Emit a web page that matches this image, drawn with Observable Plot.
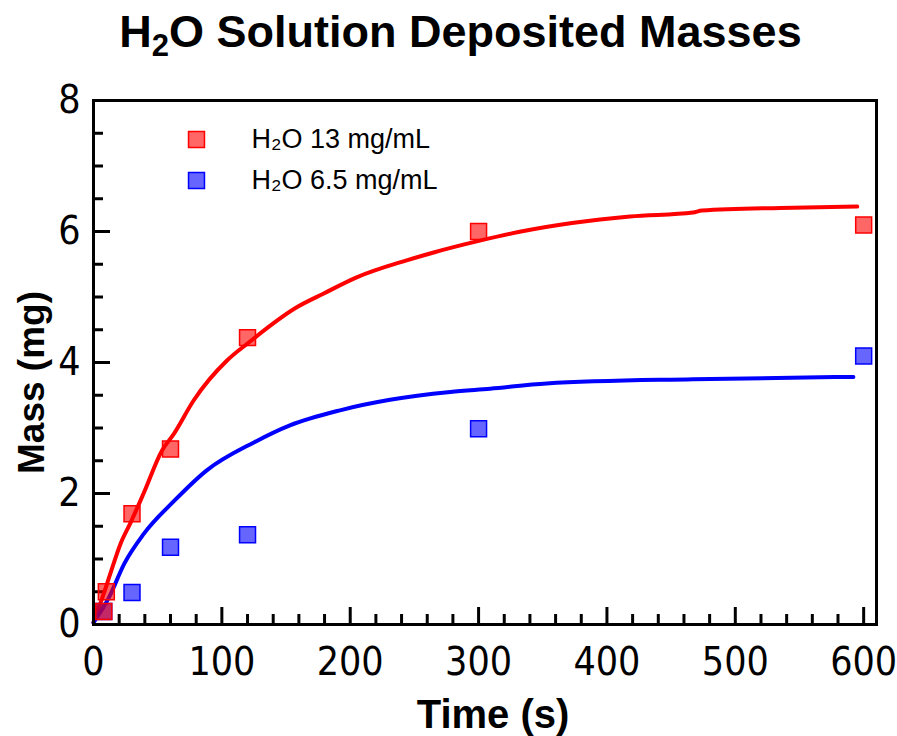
<!DOCTYPE html>
<html>
<head>
<meta charset="utf-8">
<script src="https://cdn.jsdelivr.net/npm/d3@7"></script>
<script src="https://cdn.jsdelivr.net/npm/@observablehq/plot@0.6"></script>
<style>
  html, body { margin: 0; padding: 0; background: #fff; }
  #title {
    height: 80px; width: 873px; padding-left: 24px; text-align: center;
    font-family: "Liberation Sans", Arial, sans-serif; font-weight: bold;
    font-size: 45px; line-height: 64px; color: #000;
  }
  #title sub { font-size: 31px; line-height: 0; vertical-align: -9px; }
</style>
</head>
<body>
<div id="title">H<sub>2</sub>O Solution Deposited Masses</div>
<div id="chart"></div>
<script>
// Measured deposited masses, 13 mg/mL solution
const timeHigh = [8, 10, 30, 60, 120, 300, 600];
const massHigh = [0.2, 0.5, 1.69, 2.68, 4.38, 6.0, 6.1];

// Measured deposited masses, 6.5 mg/mL solution
const timeLow = [8, 30, 60, 120, 300, 600];
const massLow = [0.2, 0.49, 1.18, 1.37, 2.99, 4.1];

// Fitted curve, 13 mg/mL
const fitTimeHigh = [0, 8, 16, 21, 29, 39, 53.5, 62.6, 78, 104, 120, 159, 179, 205, 244, 265, 301, 333, 418, 467, 474, 535, 595];
const fitMassHigh = [0.03, 0.47, 0.95, 1.23, 1.56, 2.0, 2.66, 2.91, 3.42, 4.03, 4.29, 4.85, 5.05, 5.30, 5.56, 5.68, 5.86, 6.0, 6.23, 6.29, 6.32, 6.36, 6.38];

// Fitted curve, 6.5 mg/mL
const fitTimeLow = [0, 12, 24, 39, 63, 88, 125, 153, 192, 231, 278, 309, 353, 467, 592];
const fitMassLow = [0.03, 0.41, 0.93, 1.38, 1.89, 2.35, 2.78, 3.04, 3.27, 3.43, 3.55, 3.60, 3.68, 3.745, 3.78];

// Axis ticks
const xMajor = [0, 100, 200, 300, 400, 500, 600];
const yMajor = [0, 2, 4, 6, 8];
const xMinor = d3.range(20, 610, 20).filter(v => v % 100 !== 0);
const yMinor = d3.range(0.5, 8, 0.5).filter(v => v % 2 !== 0);

const legendLabels = ["H\u2082O 13 mg/mL", "H\u2082O 6.5 mg/mL"];
const seriesColors = ["#ff0000", "#0000ff"];

const zip = (xs, ys) => xs.map((x, i) => ({x, y: ys[i]}));
const ptsHigh = zip(timeHigh, massHigh);
const ptsLow = zip(timeLow, massLow);
const fitHigh = zip(fitTimeHigh, fitMassHigh);
const fitLow = zip(fitTimeLow, fitMassLow);

const tickFont = "DejaVu Sans Condensed, DejaVu Sans, sans-serif";
const labelFont = "Liberation Sans, Arial, sans-serif";

// tick lengths expressed in data units (x: 783 px for 610 s, y: 524 px for 8 mg)
const pxX = 610 / 783, pxY = 8 / 524;

const squareStyle = color => ({symbol: "square", r: 9, fill: color, fillOpacity: 0.6, stroke: color, strokeWidth: 1.5});

// one legend row: swatch and label anchored to the top-left of the frame
const legendRow = (i, dy) => [
  Plot.dot([legendLabels[i]], {frameAnchor: "top-left", dx: 103, dy, ...squareStyle(seriesColors[i])}),
  Plot.text([legendLabels[i]], {frameAnchor: "top-left", dx: 158, dy, text: d => d, textAnchor: "start",
    lineAnchor: "middle", fontSize: 27, fontFamily: labelFont, fill: "#000"})
];

const chart = Plot.plot({
  width: 897,
  height: 656,
  marginLeft: 93,
  marginRight: 21,
  marginTop: 20,
  marginBottom: 112,
  style: {background: "#fff", overflow: "visible"},
  x: {domain: [0, 610]},
  y: {domain: [0, 8]},
  marks: [
    // inward ticks
    Plot.ruleX(xMajor, {x: d => d, y1: 0, y2: 17 * pxY, stroke: "#000", strokeWidth: 3}),
    Plot.ruleX(xMinor, {x: d => d, y1: 0, y2: 10 * pxY, stroke: "#000", strokeWidth: 3}),
    Plot.ruleY(yMajor, {y: d => d, x1: 0, x2: 17 * pxX, stroke: "#000", strokeWidth: 3}),
    Plot.ruleY(yMinor, {y: d => d, x1: 0, x2: 10 * pxX, stroke: "#000", strokeWidth: 3}),
    Plot.axisX(xMajor, {tickSize: 0, tickPadding: 23, tickFormat: d3.format("d"), fontSize: 39, fontFamily: tickFont, fill: "#000", label: null}),
    Plot.axisY(yMajor, {tickSize: 0, tickPadding: 13, tickFormat: d3.format("d"), fontSize: 39, fontFamily: tickFont, fill: "#000", label: null}),
    // fitted curves
    Plot.line(fitHigh, {x: "x", y: "y", stroke: seriesColors[0], strokeWidth: 4, curve: "monotone-x"}),
    Plot.line(fitLow, {x: "x", y: "y", stroke: seriesColors[1], strokeWidth: 4, curve: "monotone-x"}),
    // measurements
    Plot.dot(ptsLow, {x: "x", y: "y", ...squareStyle(seriesColors[1])}),
    Plot.dot(ptsHigh, {x: "x", y: "y", ...squareStyle(seriesColors[0])}),
    // legend
    ...legendRow(0, 39),
    ...legendRow(1, 80),
    Plot.frame({stroke: "#000", strokeWidth: 3}),
    Plot.text(["Time (s)"], {frameAnchor: "bottom", dx: 8, dy: 91, text: d => d, textAnchor: "middle", lineAnchor: "middle",
      fontSize: 40, fontWeight: "bold", fontFamily: labelFont, fill: "#000"}),
    Plot.text(["Mass (mg)"], {frameAnchor: "left", dx: -61, dy: 20, text: d => d, rotate: -90, textAnchor: "middle", lineAnchor: "middle",
      fontSize: 37, fontWeight: "bold", fontFamily: labelFont, fill: "#000"})
  ]
});

document.getElementById("chart").appendChild(chart);
</script>
</body>
</html>
